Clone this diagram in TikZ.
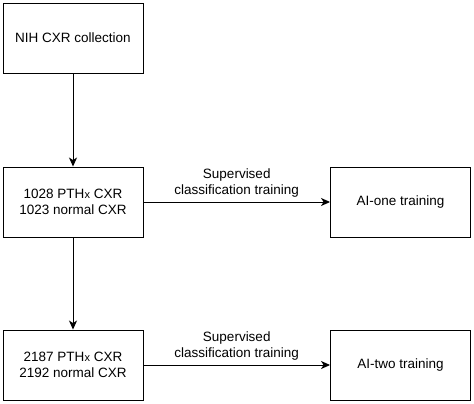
\documentclass[tikz,border=0pt]{standalone}
\usepackage{fontspec}
\setmainfont{Liberation Sans}
\usetikzlibrary{arrows.meta}

\begin{document}
\begin{tikzpicture}[x=1pt,y=-1pt,
  box/.style={draw,line width=0.9pt,minimum width=140pt,minimum height=70pt,align=center,font=\fontsize{13.5}{15.5}\selectfont},
  flow/.style={line width=0.9pt,-{Stealth[length=9pt,width=8pt,inset=2.5pt]}},
  lab/.style={align=center,font=\fontsize{13.5}{15.5}\selectfont}]
\useasboundingbox (0,0) rectangle (474,404);

\node[box](nih) at(73,38) {NIH CXR collection};
\node[box](one) at(73,202) {1028 PTH{\fontsize{11}{13}\selectfont x} CXR\\1023 normal CXR};
\node[box](two) at(73,365) {2187 PTH{\fontsize{11}{13}\selectfont x} CXR\\2192 normal CXR};
\node[box](aione) at(400.5,202) {AI-one training};
\node[box](aitwo) at(400.5,365) {AI-two training};

\draw[flow] (nih) -- (one);
\draw[flow] (one) -- (two);
\draw[flow] (one) -- node[lab,above=1pt]{Supervised\\classification training} (aione);
\draw[flow] (two) -- node[lab,above=1pt]{Supervised\\classification training} (aitwo);

\end{tikzpicture}
\end{document}
